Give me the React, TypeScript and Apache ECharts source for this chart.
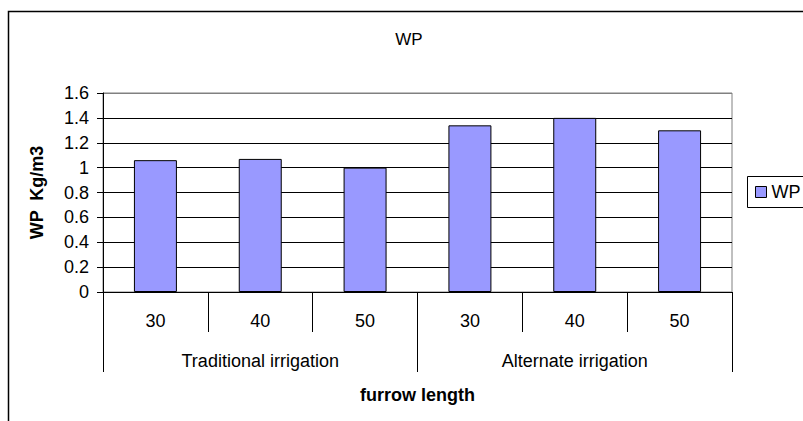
import React, { useEffect, useRef } from "react";
import * as echarts from "echarts";

const categories = ["30", "40", "50", "30", "40", "50"];
const groups = ["Traditional irrigation", "Alternate irrigation"];
const wpValues = [1.06, 1.07, 1.0, 1.34, 1.4, 1.3];
const seriesName = "WP";
const chartTitle = "WP";
const yAxisTitle = "WP  Kg/m3";
const xAxisTitle = "furrow length";
const yMin = 0;
const yMax = 1.6;
const yInterval = 0.2;

const FONT = "'Liberation Sans', Arial, Helvetica, sans-serif";
const FS = 18;

export default function App() {
  const ref = useRef<HTMLDivElement>(null);
  useEffect(() => {
    if (!ref.current) return;
    const chart = echarts.init(ref.current, null, { renderer: "svg" });
    const gridLineColors = [] as string[];
    const nLines = Math.round((yMax - yMin) / yInterval) + 1;
    for (let i = 0; i < nLines; i++) gridLineColors.push(i === nLines - 1 ? "#808080" : "#000000");
    chart.setOption({
      animation: false,
      backgroundColor: "#ffffff",
      textStyle: { fontFamily: FONT, color: "#000" },
      grid: {
        left: 103,
        top: 93,
        right: 71,
        bottom: 129,
        containLabel: false,
        outerBoundsMode: "none",
        show: true,
        borderColor: "#808080",
        borderWidth: 1,
        backgroundColor: "#ffffff",
      },
      graphic: [
        {
          type: "polyline",
          shape: { points: [[8.5, 440], [8.5, 11.5], [840, 11.5]] },
          style: { fill: "none", stroke: "#000", lineWidth: 1.5 },
          silent: true,
          z: 100,
        },
        {
          type: "polyline",
          shape: { points: [[830, 176.5], [747.5, 176.5], [747.5, 207.5], [830, 207.5]] },
          style: { fill: "none", stroke: "#000", lineWidth: 1 },
          silent: true,
          z: 100,
        },
        {
          type: "text",
          x: 409,
          y: 39,
          style: {
            text: chartTitle,
            fontFamily: FONT,
            fontSize: 17,
            fill: "#000",
            textAlign: "center",
            textVerticalAlign: "middle",
          },
        },
      ],
      legend: {
        left: 748,
        top: 177,
        orient: "vertical",
        padding: [6, 0, 6, 7],
        borderWidth: 0,
        itemWidth: 11,
        itemHeight: 11,
        icon: "rect",
        itemStyle: { borderColor: "#000", borderWidth: 1 },
        textStyle: { fontFamily: FONT, fontSize: FS, color: "#000" },
        data: [seriesName],
      },
      xAxis: [
        {
          type: "category",
          position: "bottom",
          data: categories,
          axisLine: { show: true, lineStyle: { color: "#000", width: 1 } },
          axisTick: { show: true, length: 40, lineStyle: { color: "#000", width: 1 } },
          axisLabel: { fontFamily: FONT, fontSize: FS, color: "#000", margin: 20 },
          splitLine: { show: false },
        },
        {
          type: "category",
          position: "bottom",
          data: groups,
          axisLine: { show: false },
          axisTick: { show: true, length: 80, lineStyle: { color: "#000", width: 1 } },
          axisLabel: { fontFamily: FONT, fontSize: FS, color: "#000", margin: 60 },
          splitLine: { show: false },
          name: xAxisTitle,
          nameLocation: "middle",
          nameGap: 94,
          nameTextStyle: { fontFamily: FONT, fontSize: FS, fontWeight: "bold", color: "#000" },
        },
      ],
      yAxis: {
        type: "value",
        min: yMin,
        max: yMax,
        interval: yInterval,
        axisLine: { show: true, lineStyle: { color: "#000", width: 1 } },
        axisTick: { show: true, length: 6, lineStyle: { color: "#000", width: 1 } },
        axisLabel: { fontFamily: FONT, fontSize: FS, color: "#000", margin: 14 },
        splitLine: { show: true, lineStyle: { color: gridLineColors, width: 1 } },
        name: yAxisTitle,
        nameLocation: "middle",
        nameGap: 57,
        nameTextStyle: { fontFamily: FONT, fontSize: FS, fontWeight: "bold", color: "#000" },
      },
      series: [
        {
          name: seriesName,
          type: "bar",
          xAxisIndex: 0,
          data: wpValues,
          barWidth: "41%",
          itemStyle: { color: "#9999FF", borderColor: "#000", borderWidth: 1 },
        },
      ],
    });
    return () => chart.dispose();
  }, []);
  return (
    <div
      ref={ref}
      style={{ position: "fixed", left: 0, top: 0, width: 803, height: 421, background: "#fff" }}
    />
  );
}
